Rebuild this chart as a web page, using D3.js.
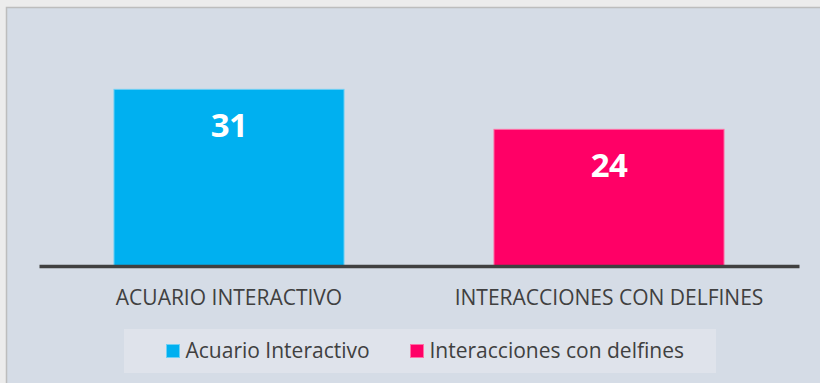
<!DOCTYPE html>
<html>
<head>
<meta charset="utf-8">
<script src="https://cdn.jsdelivr.net/npm/d3@7"></script>
<style>
  html, body { margin: 0; padding: 0; background: #ececec; }
  svg { display: block; }
</style>
</head>
<body>
<svg id="chart" width="820" height="383"></svg>
<script>
// Visitors per attraction
const categories = ["ACUARIO INTERACTIVO", "INTERACCIONES CON DELFINES"];
const seriesNames = ["Acuario Interactivo", "Interacciones con delfines"];
const values = [31, 24];
const colors = ["#00b0f0", "#ff0066"];
const edgeColors = ["#6fd0f4", "#ff6fa6"];

const svg = d3.select("#chart");
const W = 820, H = 383;

// Chart panel
svg.append("rect")
  .attr("x", 6.5).attr("y", 7.5)
  .attr("width", W).attr("height", H)
  .attr("fill", "#d5dce6")
  .attr("stroke", "#bdbdbd").attr("stroke-width", 1.5);

const plot = { left: 39, right: 799, top: 66, bottom: 266 };

const x = d3.scaleBand()
  .domain(categories)
  .range([plot.left, plot.right])
  .paddingInner(0.392)
  .paddingOuter(0.196);

const y = d3.scaleLinear()
  .domain([0, 35])
  .range([plot.bottom, plot.top]);

// Bars
svg.append("g").selectAll("rect")
  .data(values)
  .join("rect")
  .attr("x", (d, i) => x(categories[i]) + 0.5)
  .attr("y", d => y(d) + 0.5)
  .attr("width", x.bandwidth() - 1)
  .attr("height", d => y(0) - y(d))
  .attr("fill", (d, i) => colors[i])
  .attr("stroke", (d, i) => edgeColors[i])
  .attr("stroke-width", 1);

// Value labels
svg.append("g").selectAll("text")
  .data(values)
  .join("text")
  .attr("x", (d, i) => x(categories[i]) + x.bandwidth() / 2)
  .attr("y", d => y(d) + 48)
  .attr("text-anchor", "middle")
  .attr("font-family", "'Open Sans', sans-serif")
  .attr("font-weight", 700)
  .attr("font-size", 33)
  .attr("letter-spacing", -0.5)
  .attr("fill", "#ffffff")
  .text(d => d);

// Category axis
const xAxis = svg.append("g")
  .attr("transform", `translate(0,${plot.bottom})`)
  .call(d3.axisBottom(x).tickSize(0).tickPadding(0));
xAxis.select(".domain")
  .attr("stroke", "#404040")
  .attr("stroke-width", 3.5);
xAxis.selectAll("text")
  .attr("y", 39)
  .attr("dy", null)
  .attr("font-family", "'Open Sans', sans-serif")
  .attr("font-size", 21)
  .attr("fill", "#404040");

// Legend
const legend = svg.append("g");
legend.append("rect")
  .attr("x", 124).attr("y", 329)
  .attr("width", 592).attr("height", 44)
  .attr("fill", "#dfe3eb");

const legendX = [166, 410];
const items = legend.selectAll("g.item")
  .data(seriesNames)
  .join("g")
  .attr("class", "item")
  .attr("transform", (d, i) => `translate(${legendX[i]},344)`);
items.append("rect")
  .attr("x", 0.5).attr("y", 0.5)
  .attr("width", 13).attr("height", 13)
  .attr("fill", (d, i) => colors[i])
  .attr("stroke", (d, i) => edgeColors[i])
  .attr("stroke-width", 1);
items.append("text")
  .attr("x", 19.5)
  .attr("y", 14)
  .attr("font-family", "'Open Sans', sans-serif")
  .attr("font-size", 21)
  .attr("fill", "#404040")
  .text(d => d);
</script>
</body>
</html>
